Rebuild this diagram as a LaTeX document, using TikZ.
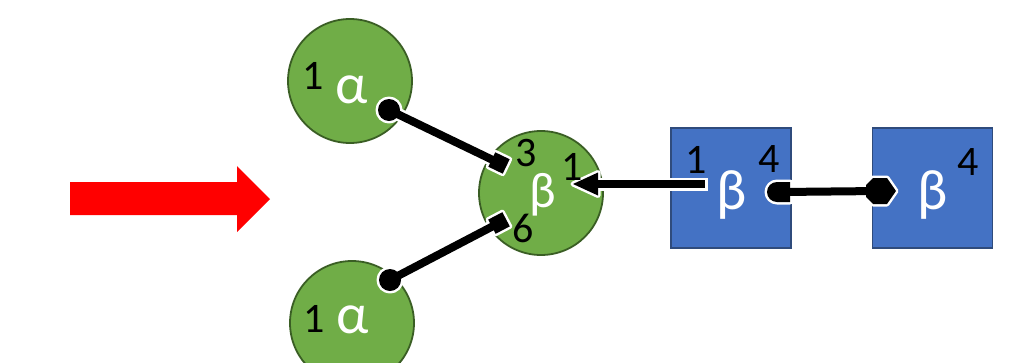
\documentclass[tikz,border=0pt]{standalone}
\usepackage{fontspec}
\setmainfont{Carlito}
\definecolor{leaf}{HTML}{70AD47}
\definecolor{leafedge}{HTML}{3A5E24}
\definecolor{sea}{HTML}{4472C4}
\definecolor{seaedge}{HTML}{2F4B7C}
\definecolor{signal}{HTML}{FF0000}
\tikzset{
  greenball/.style={circle, fill=leaf, draw=leafedge, line width=1.8pt, minimum size=124pt, inner sep=0pt},
  bluebox/.style={rectangle, fill=sea, draw=seaedge, line width=1.8pt, minimum size=120pt, inner sep=0pt},
  casing/.style={white, line width=13pt},
  wire/.style={black, line width=8pt},
  markcase/.style={fill=white, draw=white, line width=5pt, line join=round},
  markfill/.style={fill=black},
  digit/.style={inner sep=0pt, anchor=base, black, font=\fontsize{42}{42}\selectfont},
  greek/.style={inner sep=0pt, anchor=base, white, font=\fontsize{57}{57}\selectfont},
  smallgreek/.style={greek, font=\fontsize{50}{50}\selectfont},
}
\begin{document}
\begin{tikzpicture}[x=1pt, y=-1pt]
\clip (0,0) rectangle (1030,362);

% wide red arrow on the left
\fill[signal] (70,182) -- (237,182) -- (237,166) -- (270,199) -- (237,232) -- (237,215) -- (70,215) -- cycle;

% molecules
\node[greenball] (a1) at (350,81) {};
\node[greenball] (a2) at (352,323) {};
\node[greenball] (b) at (541,193) {};
\node[bluebox] (s1) at (731,188) {};
\node[bluebox] (s2) at (932.5,188) {};

% binding sites
\coordinate (a1p) at (389,110);
\coordinate (a2p) at (390,280);
\coordinate (b3) at (499,163);
\coordinate (b6) at (499,223);
\coordinate (btip) at (573,184);
\coordinate (bback) at (592,184);
\coordinate (s1p1) at (705,184);
\coordinate (s1p1case) at (707.5,184);
\coordinate (s1p4) at (781,192);
\coordinate (s2p) at (880,191);

% white casings of bonds and end marks
\draw[casing] (a1p) -- (b3);
\draw[casing] (a2p) -- (b6);
\draw[casing] (bback) -- (s1p1case);
\draw[casing] (s1p4) -- (s2p);
\path[markcase] (a1p) circle (11);
\path[markcase] (a2p) circle (11);
\path[markcase, rotate around={-25.7:(b3)}] ([shift={(-8,-8)}]b3) rectangle ([shift={(8,8)}]b3);
\path[markcase, rotate around={27.6:(b6)}] ([shift={(-8,-8)}]b6) rectangle ([shift={(8,8)}]b6);
\path[markcase] (btip) -- ++(25,-11.5) -- ++(0,23) -- cycle;
\path[markcase] (790,182) -- (777,182) arc[start angle=-90, end angle=-270, radius=10] -- (790,202) -- cycle;
\path[markcase] (866,185) -- (873,178) -- (887,178) -- (896,191) -- (887,204) -- (873,204) -- (866,197) -- cycle;

% black bonds and end marks
\draw[wire] (a1p) -- (b3);
\draw[wire] (a2p) -- (b6);
\draw[wire] (bback) -- (s1p1);
\draw[wire] (s1p4) -- (s2p);
\path[markfill] (a1p) circle (11);
\path[markfill] (a2p) circle (11);
\path[markfill, rotate around={-25.7:(b3)}] ([shift={(-8,-8)}]b3) rectangle ([shift={(8,8)}]b3);
\path[markfill, rotate around={27.6:(b6)}] ([shift={(-8,-8)}]b6) rectangle ([shift={(8,8)}]b6);
\path[markfill] (btip) -- ++(25,-11.5) -- ++(0,23) -- cycle;
\path[markfill] (790,182) -- (777,182) arc[start angle=-90, end angle=-270, radius=10] -- (790,202) -- cycle;
\path[markfill] (866,185) -- (873,178) -- (887,178) -- (896,191) -- (887,204) -- (873,204) -- (866,197) -- cycle;

% labels
\node[digit] (a1n) at (313,89) {1};
\node[greek] (a1g) at (352,103) {α};
\node[digit] (a2n) at (314,332) {1};
\node[greek] (a2g) at (353,333) {α};
\node[smallgreek] (bg) at (543,207) {β};
\node[digit] (b3n) at (526,166) {3};
\node[digit] (b1n) at (572,180) {1};
\node[digit] (b6n) at (523,242) {6};
\node[digit] (s1n1) at (696,173) {1};
\node[greek] (s1g) at (732,209) {β};
\node[digit] (s1n4) at (769,172) {4};
\node[greek] (s2g) at (933,209) {β};
\node[digit] (s2n4) at (968,175) {4};
\end{tikzpicture}
\end{document}
